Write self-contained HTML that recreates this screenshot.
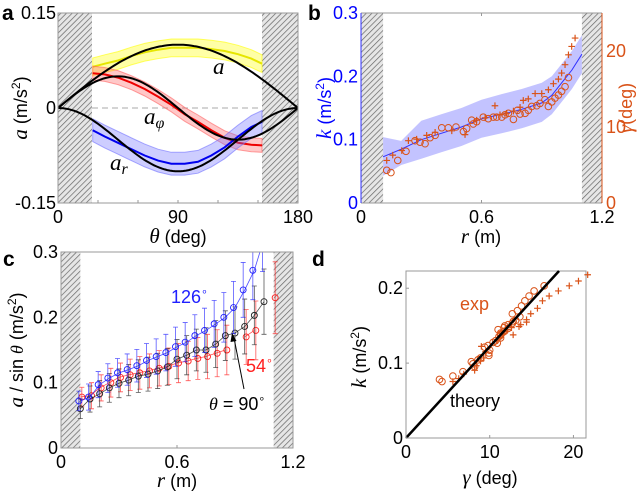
<!DOCTYPE html>
<html><head><meta charset="utf-8"><style>
body{margin:0;background:#fff}
svg{display:block;font-family:"Liberation Sans",sans-serif}
</style></head><body>
<svg id="s" width="640" height="494" viewBox="0 0 640 494" xmlns="http://www.w3.org/2000/svg">
<defs>
<pattern id="hatch" width="4" height="4" patternUnits="userSpaceOnUse" patternTransform="rotate(45)">
<rect width="4" height="4" fill="#e6e6e6"/><line x1="0" y1="0" x2="0" y2="4" stroke="#666" stroke-width="1.4"/>
</pattern>
</defs>
<g id="g"></g>
</svg>
<script>
// ---------- Panel a data ----------
const thetaA=[26,35,45,55,65,75,85,95,105,115,125,135,145,153];
const yellowA=[0.065,0.07,0.075,0.082,0.088,0.092,0.095,0.095,0.095,0.093,0.09,0.085,0.078,0.07];
const redA=[0.055,0.053,0.048,0.04,0.03,0.018,0.005,-0.01,-0.022,-0.035,-0.047,-0.055,-0.058,-0.059];
const blueA=[-0.035,-0.045,-0.055,-0.065,-0.075,-0.083,-0.088,-0.088,-0.085,-0.075,-0.062,-0.045,-0.03,-0.022];
const aTicksX=[0,90,180];
const aTicksY=[-0.15,0,0.15];
// ---------- Panel b data ----------
const rLine=[0.11,0.2,0.3,0.4,0.5,0.6,0.7,0.8,0.9,0.95,1.0,1.05,1.1];
const kLine=[0.073,0.085,0.1,0.11,0.12,0.133,0.14,0.148,0.158,0.17,0.19,0.21,0.235];
const kUpper=[0.104,0.098,0.13,0.14,0.15,0.163,0.172,0.18,0.19,0.2,0.22,0.24,0.265];
const kLower=[0.043,0.06,0.07,0.08,0.09,0.103,0.11,0.118,0.128,0.14,0.16,0.18,0.205];
const circR=[0.128,0.149,0.183,0.224,0.269,0.294,0.319,0.344,0.369,0.402,0.435,0.473,0.51,0.526,0.551,0.559,0.576,0.609,0.634,0.659,0.676,0.701,0.717,0.734,0.759,0.779,0.792,0.817,0.833,0.85,0.875,0.891,0.916,0.933,0.95,0.966,0.983,0.999,1.016,1.033];
const circG=[4.3,4.0,5.6,6.8,8.2,8.0,7.8,8.6,8.9,9.9,9.9,10.0,9.4,9.8,10.9,10.4,10.7,11.3,11.1,11.3,11.3,11.3,11.6,11.8,11.0,12.2,11.7,11.8,12.2,12.7,12.8,13.1,13.6,12.7,13.3,13.8,14.2,14.7,15.3,16.5];
const plusR=[0.128,0.158,0.203,0.236,0.277,0.327,0.369,0.452,0.518,0.576,0.618,0.667,0.692,0.725,0.759,0.792,0.808,0.833,0.867,0.9,0.933,0.958,0.983,0.999,1.016,1.033,1.049,1.066];
const plusG=[5.6,6.3,6.9,8.2,8.4,8.9,9.3,9.5,9.0,10.9,11.2,12.8,11.6,11.8,12.1,12.6,13.5,13.7,14.4,14.4,14.9,15.7,16.3,17.1,18.2,19.5,20.6,21.7];
// ---------- Panel c data ----------
const rC=[0.1,0.15,0.2,0.25,0.3,0.35,0.4,0.45,0.5,0.55,0.6,0.65,0.7,0.75,0.8,0.85,0.9,0.95,1.0,1.05,1.1];
const blackC=[0.06,0.075,0.083,0.092,0.099,0.104,0.11,0.113,0.118,0.124,0.136,0.142,0.15,0.15,0.159,0.172,0.176,0.186,0.203,0.224,null];
const blueC=[0.072,0.078,0.097,0.107,0.115,0.12,0.126,0.134,0.14,0.146,0.155,0.162,0.172,0.18,0.19,0.2,0.215,0.242,0.272,0.32,null];
const redC=[0.078,0.08,0.092,0.1,0.108,0.112,0.115,0.118,0.122,0.125,0.13,0.133,0.137,0.14,0.145,0.15,null,0.17,0.18,null,0.23];
const errC=[0.015,0.02,0.02,0.022,0.022,0.024,0.025,0.026,0.027,0.028,0.03,0.03,0.032,0.034,0.036,0.038,0.04,0.042,0.045,0.05,0.055];
// ---------- Panel d data ----------
const dTicksX=[0,10,20];
const dTicksY=[0,0.1,0.2];
const theorySlope=0.0122;

const NS="http://www.w3.org/2000/svg";
const G=document.getElementById('g');
function el(tag,attrs,parent,text){const e=document.createElementNS(NS,tag);for(const k in attrs)e.setAttribute(k,attrs[k]);if(text!==undefined)e.textContent=text;(parent||G).appendChild(e);return e;}
function lin(d0,d1,p0,p1){return v=>p0+(v-d0)/(d1-d0)*(p1-p0);}
function pathOf(xs,ys,fx,fy){let d='',pen=false;for(let i=0;i<xs.length;i++){if(ys[i]===null||ys[i]===undefined){pen=false;continue;}d+=(pen?'L':'M')+fx(xs[i]).toFixed(1)+','+fy(ys[i]).toFixed(1);pen=true;}return d;}
function interp(xs,ys,x){if(x<=xs[0])return ys[0];for(let i=1;i<xs.length;i++){if(x<=xs[i]){const t=(x-xs[i-1])/(xs[i]-xs[i-1]);return ys[i-1]+t*(ys[i]-ys[i-1]);}}return ys[ys.length-1];}
const FS=18;
const TS=18;

// ================= Panel a =================
{
const x0=58,x1=298,y0=13,y1=203;
const fx=lin(0,180,x0,x1), fy=lin(-0.15,0.15,y1,y0);
const p=el('g',{});

let h=el('rect',{x:x0,y:y0,width:fx(25.5)-x0,height:y1-y0,fill:'url(#hatch)'},p);

h=el('rect',{x:fx(153),y:y0,width:x1-fx(153),height:y1-y0,fill:'url(#hatch)'},p);

el('line',{x1:fx(25.5),x2:fx(153),y1:fy(0),y2:fy(0),stroke:'#aaa','stroke-dasharray':'6,4'},p);
const bands=[[yellowA,0.014,'#ffff00','#e6e600','band-a'],[redA,0.011,'#ff6060','#ee0000','band-a-phi'],[blueA,0.018,'#7070ff','#0000ee','band-a-r']];
bands.forEach(b=>{
 const up=b[0].map(v=>v+b[1]),lo=b[0].map(v=>v-b[1]);
 let d=pathOf(thetaA,up,fx,fy);for(let i=thetaA.length-1;i>=0;i--)d+='L'+fx(thetaA[i]).toFixed(1)+','+fy(lo[i]).toFixed(1);
 const a=el('path',{d:d+'Z',fill:b[2],'fill-opacity':0.35,stroke:b[2],'stroke-opacity':0.6},p);
 
 const l=el('path',{d:pathOf(thetaA,b[0],fx,fy),fill:'none',stroke:b[3],'stroke-width':2},p);
 
});
const th=[];for(let t=0;t<=180;t+=2)th.push(t);
const curves=[[th.map(t=>0.1*Math.sin(t*Math.PI/180)),'theory-a'],[th.map(t=>0.05*Math.sin(2*t*Math.PI/180)),'theory-a-phi'],[th.map(t=>-0.1*Math.pow(Math.sin(t*Math.PI/180),2)),'theory-a-r']];
curves.forEach(c=>{const l=el('path',{d:pathOf(th,c[0],fx,fy),fill:'none',stroke:'#000','stroke-width':2},p);});
el('rect',{x:x0,y:y0,width:x1-x0,height:y1-y0,fill:'none',stroke:'#999'},p);
[30,60,90,120,150].forEach(t=>{el('line',{x1:fx(t),x2:fx(t),y1:y1,y2:y1-3,stroke:'#999'},p);});
aTicksX.forEach(t=>{const e=el('text',{x:fx(t),y:y1+20,'text-anchor':'middle','font-size':FS},p,String(t));});
aTicksY.forEach(t=>{const e=el('text',{x:x0-2,y:fy(t)+6,'text-anchor':'end','font-size':FS},p,String(t));});
let t=el('text',{x:178,y:243,'text-anchor':'middle','font-size':TS},p);t.innerHTML='<tspan font-style="italic" font-family="Liberation Serif" font-size="21">θ</tspan> (deg)';

t=el('text',{transform:'translate(27,108) rotate(-90)','text-anchor':'middle','font-size':TS},p);t.innerHTML='<tspan font-style="italic" font-family="Liberation Serif" font-size="21">a</tspan> (m/s<tspan dy="-7" font-size="12">2</tspan><tspan dy="7">)</tspan>';

const lab=[[213,74,'a','',"label-a"],[144,124,'a','φ',"label-a-phi"],[110,170,'a','r',"label-a-r"]];
lab.forEach(l=>{const e=el('text',{x:l[0],y:l[1],'font-size':23,'font-style':'italic','font-family':'Liberation Serif'},p);e.innerHTML=l[2]+(l[3]?'<tspan font-size="16" dy="4">'+l[3]+'</tspan>':'');});
t=el('text',{x:2,y:20,'font-size':21,'font-weight':'bold'},p,'a');
}

// ================= Panel b =================
{
const x0=361,x1=602,y0=13,y1=203;
const fx=lin(0,1.2,x0,x1), fy=lin(0,0.3,y1,y0), fg=lin(0,25,y1,y0);
const p=el('g',{});

let h=el('rect',{x:x0,y:y0,width:fx(0.11)-x0,height:y1-y0,fill:'url(#hatch)'},p);

h=el('rect',{x:fx(1.1),y:y0,width:x1-fx(1.1),height:y1-y0,fill:'url(#hatch)'},p);

let d=pathOf(rLine,kUpper,fx,fy);for(let i=rLine.length-1;i>=0;i--)d+='L'+fx(rLine[i]).toFixed(1)+','+fy(kLower[i]).toFixed(1);
let e=el('path',{d:d+'Z',fill:'#7b7bff','fill-opacity':0.45},p);
e=el('path',{d:pathOf(rLine,kLine,fx,fy),fill:'none',stroke:'#3030ff','stroke-width':1},p);
circR.forEach((r,i)=>{const c=el('circle',{cx:fx(r),cy:fg(circG[i]),r:3.3,fill:'none',stroke:'#d95319','stroke-width':1},p);});
plusR.forEach((r,i)=>{const X=fx(r),Y=fg(plusG[i]);const c=el('path',{d:`M${X-3.3},${Y}H${X+3.3}M${X},${Y-3.3}V${Y+3.3}`,stroke:'#d95319','stroke-width':1.2},p);});
el('line',{x1:x0,x2:x1,y1:y0,y2:y0,stroke:'#999'},p);
el('line',{x1:x0,x2:x1,y1:y1,y2:y1,stroke:'#999'},p);
el('line',{x1:x0,x2:x0,y1:y0,y2:y1,stroke:'#3030ff'},p);
el('line',{x1:x1,x2:x1,y1:y0,y2:y1,stroke:'#d95319'},p);
el('line',{x1:fx(0.6),x2:fx(0.6),y1:y1,y2:y1-3,stroke:'#999'},p);el('line',{x1:fx(0.6),x2:fx(0.6),y1:y0,y2:y0+3,stroke:'#999'},p);
[0,0.6,1.2].forEach(v=>{const t=el('text',{x:fx(v),y:y1+20,'text-anchor':'middle','font-size':FS},p,String(v));});
[0,0.1,0.2,0.3].forEach(v=>{const t=el('text',{x:x0-3,y:fy(v)+6,'text-anchor':'end','font-size':FS,fill:'#0000ff'},p,String(v));});
[0,10,20].forEach(v=>{const t=el('text',{x:x1+4,y:fg(v)+6,'font-size':FS,fill:'#d95319'},p,String(v));});
let t=el('text',{x:481,y:243,'text-anchor':'middle','font-size':TS},p);t.innerHTML='<tspan font-style="italic" font-family="Liberation Serif" font-size="21">r</tspan> (m)';

t=el('text',{transform:'translate(331,108) rotate(-90)','text-anchor':'middle','font-size':TS,fill:'#0000ff'},p);t.innerHTML='<tspan font-style="italic" font-family="Liberation Serif" font-size="21">k</tspan> (m/s<tspan dy="-7" font-size="12">2</tspan><tspan dy="7">)</tspan>';

t=el('text',{transform:'translate(632,108) rotate(-90)','text-anchor':'middle','font-size':TS,fill:'#d95319'},p);t.innerHTML='<tspan font-style="italic" font-family="Liberation Serif" font-size="21">γ</tspan>(deg)';

t=el('text',{x:308,y:20,'font-size':21,'font-weight':'bold'},p,'b');
}

// ================= Panel c =================
{
const x0=61,x1=293,y0=252,y1=448;
const fx=lin(0,1.2,x0,x1), fy=lin(0,0.3,y1,y0);
const p=el('g',{});

const cp=el('clipPath',{id:'clipc'},p);
el('rect',{x:x0,y:y0,width:x1-x0,height:y1-y0},cp);
let h=el('rect',{x:x0,y:y0,width:fx(0.1)-x0,height:y1-y0,fill:'url(#hatch)'},p);

h=el('rect',{x:fx(1.1),y:y0,width:x1-fx(1.1),height:y1-y0,fill:'url(#hatch)'},p);

const cg=el('g',{'clip-path':'url(#clipc)'},p);
const ser=[[redC,'#ff2020',1.5,'series-54'],[blackC,'#222',0,'series-90'],[blueC,'#2020ff',-1.5,'series-126']];
ser.forEach(s=>{
 const sg=el('g',{},cg);
 el('path',{d:pathOf(rC,s[0],fx,fy),fill:'none',stroke:s[1],'stroke-width':0.8,'stroke-opacity':0.8},sg);
 rC.forEach((r,i)=>{const v=s[0][i];if(v===null)return;const X=fx(r)+s[2];const e=errC[i];
  el('path',{d:`M${X},${fy(v+e)}V${fy(v-e)}M${X-2.5},${fy(v+e)}h5M${X-2.5},${fy(v-e)}h5`,stroke:s[1],'stroke-width':0.8,'stroke-opacity':0.75,fill:'none'},sg);
  const c=el('circle',{cx:X,cy:fy(v),r:3,fill:'none',stroke:s[1],'stroke-width':0.9},sg);});
});
el('rect',{x:x0,y:y0,width:x1-x0,height:y1-y0,fill:'none',stroke:'#999'},p);
el('line',{x1:fx(0.6),x2:fx(0.6),y1:y1,y2:y1-3,stroke:'#999'},p);
[0,0.6,1.2].forEach(v=>{const t=el('text',{x:fx(v),y:y1+20,'text-anchor':'middle','font-size':FS},p,String(v));});
[0,0.1,0.2,0.3].forEach(v=>{const t=el('text',{x:x0-3,y:fy(v)+6,'text-anchor':'end','font-size':FS},p,String(v));});
let t=el('text',{x:177,y:487,'text-anchor':'middle','font-size':TS},p);t.innerHTML='<tspan font-style="italic" font-family="Liberation Serif" font-size="21">r</tspan> (m)';

t=el('text',{transform:'translate(23,350) rotate(-90)','text-anchor':'middle','font-size':TS},p);t.innerHTML='<tspan font-style="italic" font-family="Liberation Serif" font-size="21">a</tspan> / sin <tspan font-style="italic" font-family="Liberation Serif">θ</tspan>  (m/s<tspan dy="-7" font-size="12">2</tspan><tspan dy="7">)</tspan>';

t=el('text',{x:171,y:303,'font-size':18,fill:'#2020ff'},p);t.innerHTML='126<tspan dy="-8" font-size="11">∘</tspan>';
t=el('text',{x:246,y:372,'font-size':18,fill:'#ff2020'},p);t.innerHTML='54<tspan dy="-8" font-size="11">∘</tspan>';
t=el('text',{x:209,y:410,'font-size':18},p);t.innerHTML='<tspan font-style="italic" font-family="Liberation Serif">θ</tspan> = 90<tspan dy="-8" font-size="11">∘</tspan>';
el('line',{x1:244,y1:389,x2:234,y2:338,stroke:'#000','stroke-width':1},p);
el('path',{d:'M232,333 L230.5,342 L236.5,341 Z',fill:'#000'},p);
t=el('text',{x:3,y:266,'font-size':21,'font-weight':'bold'},p,'c');
}

// ================= Panel d =================
{
const x0=406,x1=586,y0=271,y1=438;
const fx=lin(0,21.5,x0,x1), fy=lin(0,0.223,y1,y0);
const p=el('g',{});

el('rect',{x:x0,y:y0,width:x1-x0,height:y1-y0,fill:'none',stroke:'#999'},p);
circR.forEach((r,i)=>{const c=el('circle',{cx:fx(circG[i]),cy:fy(interp(rLine,kLine,r)),r:3.3,fill:'none',stroke:'#d95319','stroke-width':1},p);});
plusR.forEach((r,i)=>{const X=fx(plusG[i]),Y=fy(interp(rLine,kLine,r));const c=el('path',{d:`M${X-3.3},${Y}H${X+3.3}M${X},${Y-3.3}V${Y+3.3}`,stroke:'#d95319','stroke-width':1.2},p);});
const gEnd=0.223/theorySlope;
let e=el('line',{x1:fx(0),y1:fy(0),x2:fx(gEnd),y2:fy(theorySlope*gEnd),stroke:'#000','stroke-width':2.5},p);

dTicksX.forEach(v=>{el('line',{x1:fx(v),x2:fx(v),y1:y1,y2:y1-3,stroke:'#999'},p);const t=el('text',{x:fx(v),y:y1+20,'text-anchor':'middle','font-size':FS},p,String(v));});
dTicksY.forEach(v=>{el('line',{x1:x0,x2:x0+3,y1:fy(v),y2:fy(v),stroke:'#999'},p);const t=el('text',{x:x0-3,y:fy(v)+6,'text-anchor':'end','font-size':FS},p,String(v));});
let t=el('text',{x:490,y:484,'text-anchor':'middle','font-size':TS},p);t.innerHTML='<tspan font-style="italic" font-family="Liberation Serif" font-size="21">γ</tspan> (deg)';

t=el('text',{transform:'translate(366,357) rotate(-90)','text-anchor':'middle','font-size':TS},p);t.innerHTML='<tspan font-style="italic" font-family="Liberation Serif" font-size="21">k</tspan> (m/s<tspan dy="-7" font-size="12">2</tspan><tspan dy="7">)</tspan>';

t=el('text',{x:460,y:310,'font-size':18,fill:'#d95319'},p,'exp');
t=el('text',{x:450,y:407,'font-size':18},p,'theory');
t=el('text',{x:312,y:266,'font-size':21,'font-weight':'bold'},p,'d');
}
</script>
</body></html>
